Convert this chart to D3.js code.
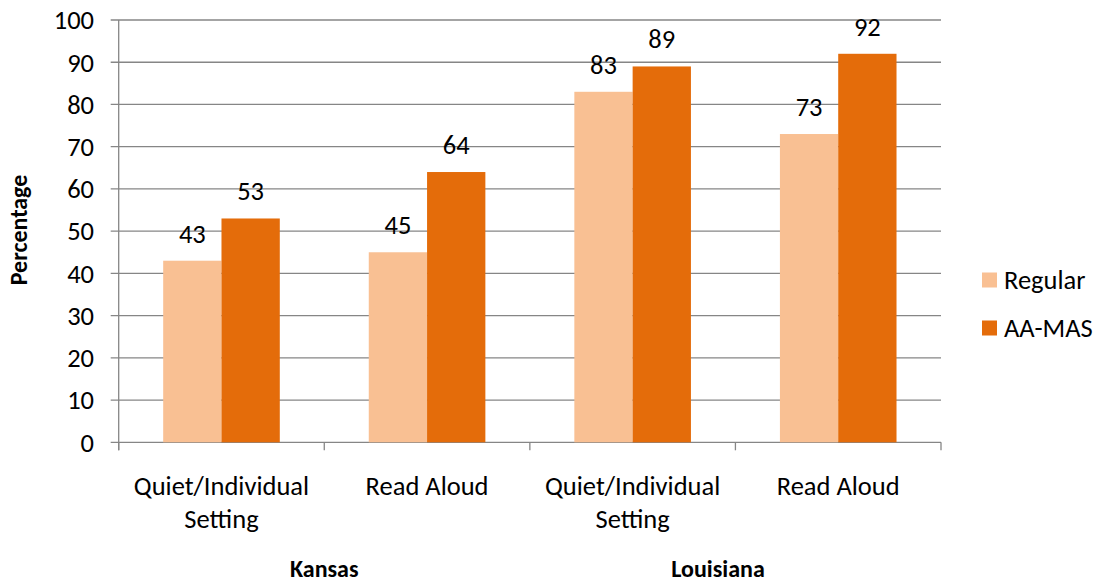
<!DOCTYPE html>
<html><head><meta charset="utf-8">
<script src="https://cdn.jsdelivr.net/npm/d3@7"></script>
<style>body{margin:0;background:#fff}svg{display:block}text{font-family:Carlito,"Open Sans","Liberation Sans",sans-serif}</style>
</head><body><svg id="c" width="1097" height="583"></svg>
<script>
const categories = ["Quiet/Individual Setting","Read Aloud","Quiet/Individual Setting","Read Aloud"];
const groups = ["Kansas","Louisiana"];
const seriesNames = ["Regular","AA-MAS"];
const regular = [43,45,83,73];
const aamas = [53,64,89,92];
const yTicks = [0,10,20,30,40,50,60,70,80,90,100];
const colors = ["#F9C093","#E46C0A"];

const svg = d3.select("#c");
const L=118.7, R=941, T=20, B=442.3;
const FS=26.5;
const x = d3.scaleBand().domain(d3.range(categories.length)).range([L,R]).paddingInner(0).paddingOuter(0);
const y = d3.scaleLinear().domain([0,100]).range([B,T]);
const bw = 58.3;
const gridC="#868686";

svg.append("g").selectAll("line").data(yTicks).join("line")
 .attr("x1",L-8).attr("x2",R).attr("y1",d=>y(d)).attr("y2",d=>y(d))
 .attr("stroke",gridC).attr("stroke-width",1.3);
svg.append("g").selectAll("text").data(yTicks).join("text")
 .attr("x",94).attr("y",d=>y(d)).attr("dy","0.35em").attr("text-anchor","end")
 .attr("font-size",FS).attr("fill","#000").text(d=>d);
svg.append("line").attr("x1",L).attr("x2",L).attr("y1",T).attr("y2",B+8).attr("stroke",gridC).attr("stroke-width",1.3);
svg.append("g").selectAll("line").data(d3.range(categories.length+1)).join("line")
 .attr("x1",i=>L+i*x.bandwidth()).attr("x2",i=>L+i*x.bandwidth()).attr("y1",B).attr("y2",B+8)
 .attr("stroke",gridC).attr("stroke-width",1.3);

const data = categories.map((c,i)=>({i, vals:[regular[i],aamas[i]]}));
const g = svg.append("g");
data.forEach(d=>{
  const cx = x(d.i)+x.bandwidth()/2;
  d.vals.forEach((v,k)=>{
    const bx = cx - bw + k*bw;
    g.append("rect").attr("x",bx).attr("y",y(v)).attr("width",bw).attr("height",y(0)-y(v)).attr("fill",colors[k]);
    g.append("text").attr("x",bx+bw/2).attr("y",y(v)-18).attr("text-anchor","middle").attr("font-size",FS).text(v);
  });
});
data.forEach(d=>{
  const cx = x(d.i)+x.bandwidth()/2;
  const words = categories[d.i]==="Quiet/Individual Setting"?["Quiet/Individual","Setting"]:[categories[d.i]];
  words.forEach((w,j)=>{
    svg.append("text").attr("x",cx).attr("y",495+j*33).attr("text-anchor","middle").attr("font-size",FS).text(w);
  });
});
const gx=[L+x.bandwidth(), 718];
groups.forEach((gname,j)=>{
  svg.append("text").attr("x",gx[j]).attr("y",577).attr("text-anchor","middle").attr("font-size",24).attr("font-weight","bold").text(gname);
});
svg.append("text").attr("transform","translate(27,230) rotate(-90)").attr("text-anchor","middle")
 .attr("font-size",24).attr("font-weight","bold").text("Percentage");
seriesNames.forEach((s,k)=>{
  const ly = 280 + k*48;
  svg.append("rect").attr("x",982).attr("y",ly-7.5).attr("width",15).attr("height",15).attr("fill",colors[k]);
  svg.append("text").attr("x",1004).attr("y",ly).attr("dy","0.35em").attr("font-size",FS).text(s);
});
</script></body></html>
